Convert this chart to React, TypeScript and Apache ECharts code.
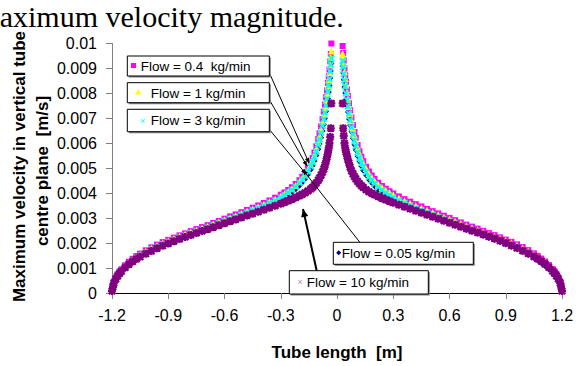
import React, { useEffect, useRef } from 'react';
import * as echarts from 'echarts';

const X_LEFT = [-1.2, -1.195, -1.19, -1.18, -1.17, -1.16, -1.15, -1.13, -1.11, -1.09, -1.07, -1.05, -1.02, -0.99, -0.96, -0.93, -0.9, -0.87, -0.84, -0.81, -0.78, -0.75, -0.72, -0.69, -0.66, -0.63, -0.6, -0.57, -0.54, -0.51, -0.48, -0.45, -0.42, -0.39, -0.36, -0.33, -0.3, -0.28, -0.26, -0.24, -0.22, -0.2, -0.185, -0.17, -0.155, -0.14, -0.13, -0.12, -0.11, -0.1, -0.093, -0.085, -0.077, -0.07, -0.064, -0.058, -0.053, -0.048, -0.044, -0.04, -0.036, -0.033, -0.03];
const X_RIGHT = [0.03, 0.033, 0.036, 0.04, 0.044, 0.048, 0.053, 0.058, 0.064, 0.07, 0.077, 0.085, 0.093, 0.1, 0.11, 0.12, 0.13, 0.14, 0.155, 0.17, 0.185, 0.2, 0.22, 0.24, 0.26, 0.28, 0.3, 0.33, 0.36, 0.39, 0.42, 0.45, 0.48, 0.51, 0.54, 0.57, 0.6, 0.63, 0.66, 0.69, 0.72, 0.75, 0.78, 0.81, 0.84, 0.87, 0.9, 0.93, 0.96, 0.99, 1.02, 1.05, 1.07, 1.09, 1.11, 1.13, 1.15, 1.16, 1.17, 1.18, 1.19, 1.195, 1.2];

// Flow = 0.05 kg/min (navy)
const N_LEFT = [0.00007, 0.00024, 0.00038, 0.00052, 0.00065, 0.00076, 0.00085, 0.001, 0.00113, 0.00125, 0.00136, 0.00146, 0.00158, 0.0017, 0.0018, 0.0019, 0.00199, 0.00208, 0.00217, 0.00225, 0.00234, 0.00242, 0.0025, 0.00258, 0.00267, 0.00275, 0.00284, 0.00292, 0.003, 0.00308, 0.00317, 0.00326, 0.00335, 0.00344, 0.00354, 0.00364, 0.00375, 0.00384, 0.00393, 0.00404, 0.00416, 0.0043, 0.00443, 0.00457, 0.00474, 0.00494, 0.0051, 0.00529, 0.00551, 0.00576, 0.00597, 0.00622, 0.00649, 0.00675, 0.007, 0.00728, 0.00753, 0.0078, 0.00805, 0.00832, 0.00862, 0.0089, 0.0092];
const N_RIGHT = [0.0091, 0.00882, 0.00855, 0.00826, 0.00802, 0.00777, 0.00751, 0.00725, 0.00697, 0.00672, 0.00646, 0.00619, 0.00594, 0.00573, 0.00548, 0.00527, 0.00508, 0.00491, 0.00472, 0.00454, 0.00441, 0.00428, 0.00414, 0.00402, 0.00392, 0.00383, 0.00374, 0.00363, 0.00353, 0.00343, 0.00334, 0.00325, 0.00316, 0.00307, 0.00298, 0.00289, 0.00281, 0.00272, 0.00263, 0.00254, 0.00246, 0.00238, 0.00229, 0.0022, 0.00212, 0.00203, 0.00194, 0.00185, 0.00175, 0.00164, 0.00152, 0.0014, 0.0013, 0.00119, 0.00107, 0.00094, 0.00079, 0.00071, 0.0006, 0.00048, 0.00036, 0.00022, 0.00007];

// Flow = 0.4 kg/min (magenta)
const M_LEFT = [0.0001, 0.0003, 0.00045, 0.00062, 0.00075, 0.00086, 0.00095, 0.00111, 0.00125, 0.00137, 0.00148, 0.00158, 0.00171, 0.00183, 0.00194, 0.00204, 0.00213, 0.00222, 0.00231, 0.00239, 0.00248, 0.00256, 0.00264, 0.00272, 0.00281, 0.00289, 0.00298, 0.00307, 0.00315, 0.00324, 0.00333, 0.00342, 0.00351, 0.00361, 0.00371, 0.00382, 0.00394, 0.00403, 0.00413, 0.00424, 0.00437, 0.00452, 0.00466, 0.00482, 0.00501, 0.00523, 0.00541, 0.00563, 0.00588, 0.00617, 0.0064, 0.00668, 0.00698, 0.00727, 0.00755, 0.00785, 0.00812, 0.00842, 0.00868, 0.00896, 0.00928, 0.00958, 0.01];
const M_RIGHT = [0.0099, 0.00962, 0.00932, 0.009, 0.00872, 0.00846, 0.00816, 0.0079, 0.0076, 0.00732, 0.00703, 0.00673, 0.00645, 0.00622, 0.00593, 0.00568, 0.00546, 0.00528, 0.00506, 0.00487, 0.00471, 0.00457, 0.00442, 0.00429, 0.00418, 0.00408, 0.00399, 0.00387, 0.00376, 0.00366, 0.00356, 0.00347, 0.00337, 0.00328, 0.00319, 0.0031, 0.00301, 0.00292, 0.00283, 0.00274, 0.00266, 0.00258, 0.00249, 0.0024, 0.00232, 0.00223, 0.00214, 0.00205, 0.00195, 0.00184, 0.00172, 0.00159, 0.00149, 0.00138, 0.00126, 0.00112, 0.00096, 0.00087, 0.00076, 0.00063, 0.00046, 0.00031, 0.0001];

// Flow = 1 kg/min (yellow)
const Y_LEFT = [0.00009, 0.00028, 0.00042, 0.00058, 0.00071, 0.00082, 0.00091, 0.00107, 0.00121, 0.00133, 0.00144, 0.00154, 0.00167, 0.00179, 0.0019, 0.002, 0.00209, 0.00218, 0.00227, 0.00235, 0.00244, 0.00252, 0.0026, 0.00268, 0.00277, 0.00285, 0.00294, 0.00302, 0.0031, 0.00319, 0.00328, 0.00337, 0.00346, 0.00356, 0.00366, 0.00376, 0.00388, 0.00397, 0.00407, 0.00418, 0.00431, 0.00446, 0.0046, 0.00475, 0.00494, 0.00515, 0.00533, 0.00554, 0.00578, 0.00606, 0.00629, 0.00656, 0.00686, 0.00714, 0.00742, 0.00772, 0.008, 0.0083, 0.00856, 0.00884, 0.00915, 0.00944, 0.0097];
const Y_RIGHT = [0.0096, 0.00946, 0.00918, 0.00887, 0.0086, 0.00834, 0.00804, 0.00777, 0.00747, 0.00719, 0.0069, 0.0066, 0.00633, 0.00611, 0.00583, 0.00559, 0.00538, 0.0052, 0.00499, 0.00479, 0.00464, 0.0045, 0.00435, 0.00423, 0.00412, 0.00402, 0.00393, 0.00381, 0.0037, 0.0036, 0.0035, 0.00341, 0.00332, 0.00323, 0.00314, 0.00305, 0.00297, 0.00288, 0.00279, 0.0027, 0.00262, 0.00254, 0.00245, 0.00236, 0.00228, 0.00219, 0.0021, 0.00201, 0.00191, 0.0018, 0.00168, 0.00155, 0.00145, 0.00134, 0.00122, 0.00108, 0.00092, 0.00083, 0.00072, 0.00059, 0.00043, 0.00029, 0.00009];

// Flow = 3 kg/min (cyan)
const C_LEFT = [0.00008, 0.00026, 0.0004, 0.00055, 0.00068, 0.00079, 0.00088, 0.00103, 0.00117, 0.00129, 0.0014, 0.0015, 0.00162, 0.00174, 0.00185, 0.00195, 0.00204, 0.00213, 0.00222, 0.0023, 0.00239, 0.00247, 0.00255, 0.00263, 0.00272, 0.0028, 0.00289, 0.00297, 0.00305, 0.00314, 0.00323, 0.00332, 0.00341, 0.00351, 0.00361, 0.00371, 0.00383, 0.00392, 0.00402, 0.00413, 0.00426, 0.00441, 0.00454, 0.00469, 0.00487, 0.00508, 0.00525, 0.00545, 0.00568, 0.00594, 0.00616, 0.00642, 0.0067, 0.00697, 0.00723, 0.00752, 0.00778, 0.00806, 0.00831, 0.00858, 0.00888, 0.00915, 0.0094];
const C_RIGHT = [0.0093, 0.00905, 0.00878, 0.00852, 0.00828, 0.008, 0.00774, 0.00747, 0.00718, 0.00692, 0.00664, 0.00636, 0.0061, 0.00589, 0.00563, 0.00541, 0.00521, 0.00504, 0.00484, 0.00465, 0.00451, 0.00438, 0.00424, 0.00412, 0.00401, 0.00392, 0.00383, 0.00372, 0.00361, 0.00351, 0.00341, 0.00332, 0.00323, 0.00314, 0.00305, 0.00296, 0.00288, 0.00279, 0.0027, 0.00261, 0.00253, 0.00245, 0.00236, 0.00227, 0.00219, 0.0021, 0.00201, 0.00192, 0.00182, 0.00171, 0.0016, 0.00147, 0.00138, 0.00127, 0.00115, 0.00101, 0.00086, 0.00077, 0.00066, 0.00054, 0.00039, 0.00025, 0.00008];

// Flow = 10 kg/min (purple)
const P_LEFT = [0.00008, 0.00025, 0.0004, 0.00056, 0.00068, 0.00078, 0.00087, 0.00102, 0.00115, 0.00126, 0.00136, 0.00145, 0.00157, 0.00168, 0.00179, 0.00189, 0.00198, 0.00207, 0.00216, 0.00224, 0.00232, 0.0024, 0.00248, 0.00256, 0.00264, 0.00272, 0.0028, 0.00288, 0.00295, 0.00303, 0.00311, 0.00318, 0.00326, 0.00334, 0.00342, 0.0035, 0.00358, 0.00364, 0.0037, 0.00376, 0.00383, 0.0039, 0.00396, 0.00402, 0.00409, 0.00417, 0.00424, 0.00432, 0.00441, 0.00452, 0.00461, 0.00472, 0.00485, 0.00498, 0.00512, 0.00528, 0.00545, 0.00563, 0.0058, 0.006, 0.00625, 0.0066, 0.0076];
const P_RIGHT = [0.0076, 0.0066, 0.0063, 0.006, 0.0058, 0.00565, 0.0055, 0.00535, 0.0052, 0.00505, 0.0049, 0.00478, 0.00467, 0.00458, 0.00447, 0.00438, 0.0043, 0.00423, 0.00414, 0.00406, 0.004, 0.00394, 0.00387, 0.0038, 0.00374, 0.00368, 0.00362, 0.00354, 0.00346, 0.00338, 0.0033, 0.00322, 0.00314, 0.00306, 0.00298, 0.0029, 0.00282, 0.00274, 0.00266, 0.00258, 0.0025, 0.00242, 0.00234, 0.00226, 0.00218, 0.00209, 0.002, 0.0019, 0.0018, 0.00169, 0.00158, 0.00146, 0.00137, 0.00127, 0.00116, 0.00103, 0.00088, 0.00079, 0.00069, 0.00057, 0.00041, 0.00026, 0.00008];

const X_TICKS = { min: -1.2, max: 1.2, interval: 0.3 };
const Y_TICKS = { min: 0, max: 0.01, interval: 0.001 };

const SANS = '"Liberation Sans", Arial, sans-serif';
const CROSS = 'path://M0,2L2,0L5,3L8,0L10,2L7,5L10,8L8,10L5,7L2,10L0,8L3,5Z';
const STAR = 'path://M0,2L2,0L5,3L8,0L10,2L7,5L10,8L8,10L5,7L2,10L0,8L3,5Z M3.5,0L6.5,0L6.5,10L3.5,10Z M0,3.5L10,3.5L10,6.5L0,6.5Z';

function pts(xs: number[], ys: number[]) {
  return xs.map((x, i) => [x, ys[i]]);
}

function branchData(l: number[], r: number[]) {
  return [...pts(X_LEFT, l), ...pts(X_RIGHT, r)];
}

function arrowHead(x1: number, y1: number, x2: number, y2: number, len: number, half: number) {
  const dx = x2 - x1, dy = y2 - y1;
  const d = Math.sqrt(dx * dx + dy * dy);
  const ux = dx / d, uy = dy / d;
  const bx = x2 - ux * len, by = y2 - uy * len;
  return [[x2, y2], [bx - uy * half, by + ux * half], [bx + uy * half, by - ux * half]];
}

function callout(x1: number, y1: number, x2: number, y2: number, w: number, head: number) {
  return [
    { type: 'line', z: 100, shape: { x1, y1, x2, y2 }, style: { stroke: '#000', lineWidth: w } },
    { type: 'polygon', z: 100, shape: { points: arrowHead(x1, y1, x2, y2, head, head * 0.45) }, style: { fill: '#000' } },
  ];
}

function box(x: number, y: number, w: number, h: number) {
  return [
    { type: 'rect', z: 100, shape: { x: x + 1.5, y: y + 1.5, width: w, height: h }, style: { fill: '#7f7f7f' } },
    { type: 'rect', z: 101, shape: { x, y, width: w, height: h }, style: { fill: '#fff', stroke: '#000', lineWidth: 1 } },
  ];
}

function label(text: string, x: number, y: number) {
  return { type: 'text', z: 102, x, y, style: { text, font: `13.5px ${SANS}`, fill: '#000', align: 'left', verticalAlign: 'middle' } };
}

export default function App() {
  const ref = useRef<HTMLDivElement>(null);
  useEffect(() => {
    const chart = echarts.init(ref.current!, null, { renderer: 'svg' });
    const option: any = {
      animation: false,
      backgroundColor: '#fff',
      grid: { left: 112, top: 43.5, width: 450, height: 261 },
      xAxis: {
        type: 'value',
        ...X_TICKS,
        name: 'Tube length  [m]',
        nameLocation: 'middle',
        nameGap: 51,
        nameTextStyle: { fontFamily: SANS, fontSize: 17, fontWeight: 'bold', color: '#000' },
        axisLine: { onZero: false, lineStyle: { color: '#000', width: 1 } },
        axisTick: { show: true, inside: false, length: 6, lineStyle: { color: '#808080' } },
        axisLabel: { fontFamily: SANS, fontSize: 16, color: '#000', margin: 14, formatter: (v: number) => String(+v.toFixed(1)) },
        splitLine: { show: false },
      },
      yAxis: {
        type: 'value',
        ...Y_TICKS,
        axisLine: { show: true, onZero: false, lineStyle: { color: '#808080', width: 1 } },
        axisTick: { show: true, inside: false, length: 6, lineStyle: { color: '#808080' } },
        axisLabel: { fontFamily: SANS, fontSize: 16, color: '#000', margin: 15, formatter: (v: number) => String(+v.toFixed(3)) },
        splitLine: { show: false },
      },
      series: [
        { name: 'Flow = 0.05 kg/min', type: 'scatter', symbol: 'diamond', symbolSize: 6, itemStyle: { color: '#000080', opacity: 1 }, data: branchData(N_LEFT, N_RIGHT), silent: true },
        { name: 'Flow = 0.4 kg/min', type: 'scatter', symbol: 'rect', symbolSize: 6, itemStyle: { color: '#ff00ff', opacity: 1 }, data: branchData(M_LEFT, M_RIGHT), silent: true },
        { name: 'Flow = 1 kg/min', type: 'scatter', symbol: 'triangle', symbolSize: 7, itemStyle: { color: '#ffff00', opacity: 1 }, data: branchData(Y_LEFT, Y_RIGHT), silent: true },
        { name: 'Flow = 3 kg/min', type: 'scatter', symbol: CROSS, symbolSize: 7, itemStyle: { color: '#00ffff', opacity: 1 }, data: branchData(C_LEFT, C_RIGHT), silent: true },
        { name: 'Flow = 10 kg/min', type: 'scatter', symbol: STAR, symbolSize: 8, itemStyle: { color: '#800080', opacity: 1 }, data: branchData(P_LEFT, P_RIGHT), silent: true },
      ],
      graphic: [
        { type: 'text', z: 100, x: -27, y: 16, style: { text: 'Maximum velocity magnitude.', font: '30px "Liberation Serif", "Times New Roman", serif', fill: '#000', align: 'left', verticalAlign: 'middle' } },
        { type: 'text', z: 100, x: 19, y: 166.5, rotation: Math.PI / 2, style: { text: 'Maximum velocity in vertical tube', font: `bold 17px ${SANS}`, fill: '#000', align: 'center', verticalAlign: 'middle' } },
        { type: 'text', z: 100, x: 42, y: 171, rotation: Math.PI / 2, style: { text: 'centre plane  [m/s]', font: `bold 17px ${SANS}`, fill: '#000', align: 'center', verticalAlign: 'middle' } },
        ...callout(269, 72, 309, 163, 1, 5),
        ...callout(269, 99, 307, 166, 1, 5),
        ...callout(269, 129, 306, 174, 1, 5),
        ...callout(360, 242.5, 303, 170, 1, 5),
        ...callout(316.7, 270.7, 303, 209, 2, 8),
        ...box(127.3, 56, 142, 20),
        ...box(127.3, 82.7, 142, 20),
        ...box(127.3, 109.3, 142, 22.4),
        ...box(333.3, 242.3, 140, 22),
        ...box(289.3, 270.7, 139, 23.3),
        { type: 'rect', z: 103, shape: { x: 131, y: 63, width: 5, height: 5 }, style: { fill: '#ff00ff' } },
        { type: 'polygon', z: 103, shape: { points: [[138.3, 89], [141.3, 94.5], [135.3, 94.5]] }, style: { fill: '#ffff00' } },
        { type: 'text', z: 103, x: 142.7, y: 120.5, style: { text: '×', font: `9px ${SANS}`, fill: '#00ffff', align: 'center', verticalAlign: 'middle' } },
        { type: 'polygon', z: 103, shape: { points: [[338.7, 250.2], [341.2, 252.7], [338.7, 255.2], [336.2, 252.7]] }, style: { fill: '#000080' } },
        { type: 'text', z: 103, x: 300, y: 281.7, style: { text: '×', font: `9px ${SANS}`, fill: '#c080c0', align: 'center', verticalAlign: 'middle' } },
        label('Flow = 0.4  kg/min', 140.7, 66),
        label('Flow = 1 kg/min', 150.7, 93),
        label('Flow = 3 kg/min', 150.7, 120.5),
        label('Flow = 0.05 kg/min', 341.7, 253.5),
        label('Flow = 10 kg/min', 306.7, 282.5),
      ],
    };
    chart.setOption(option);
    return () => chart.dispose();
  }, []);
  return <div ref={ref} style={{ position: 'fixed', left: 0, top: 0, width: 586, height: 366 }} />;
}
